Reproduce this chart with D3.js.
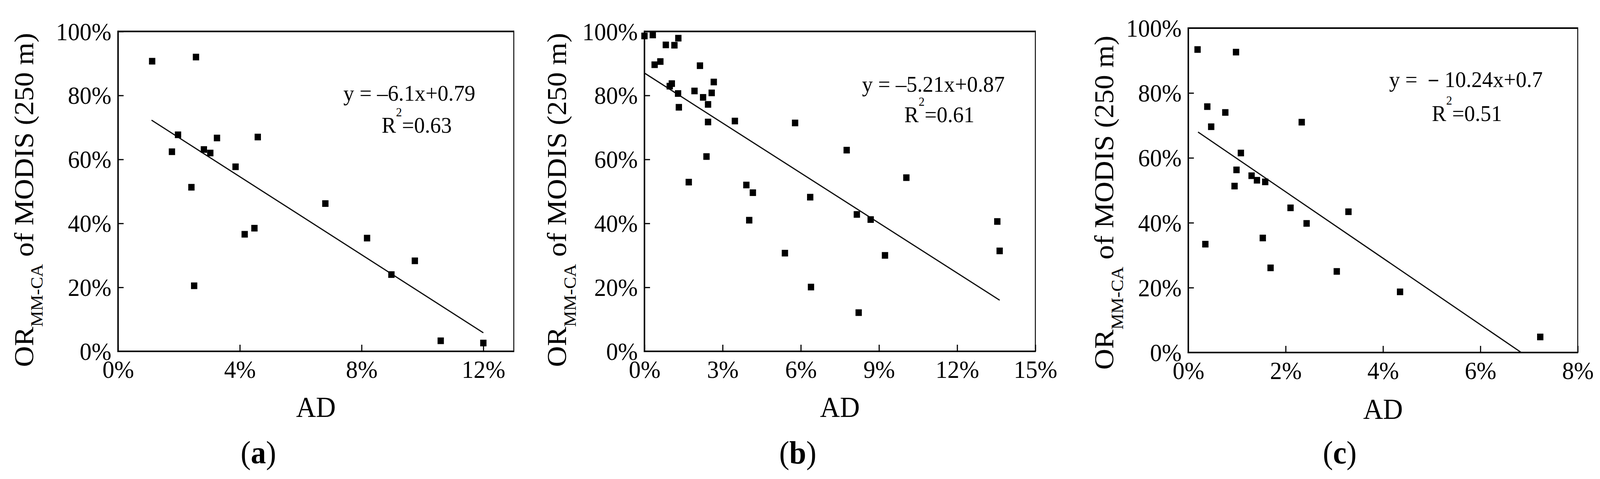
<!DOCTYPE html>
<html>
<head>
<meta charset="utf-8">
<script src="https://cdn.jsdelivr.net/npm/d3@7/dist/d3.min.js"></script>
<style>
  html, body { margin: 0; padding: 0; background: #fff; width: 100%; height: 100%; overflow: hidden; }
  svg { display: block; width: 100vw; height: 100vh; }
  text { font-family: "Liberation Serif", "Times New Roman", serif; fill: #000; }
</style>
</head>
<body>
<svg id="chart" viewBox="0 0 4310 1227" preserveAspectRatio="none"></svg>
<script>
// ---------------- DATA ----------------
const panelLabels = ["a", "b", "c"];
const xAxisTitle = "AD";
const yTitleMain = "OR";
const yTitleSub = "MM-CA";
const yTitleRest = " of MODIS (250 m)";

const yTickValues = [0, 0.2, 0.4, 0.6, 0.8, 1.0];
const xTicksA = [0, 0.04, 0.08, 0.12];
const xTicksB = [0, 0.03, 0.06, 0.09, 0.12, 0.15];
const xTicksC = [0, 0.02, 0.04, 0.06, 0.08];
const xMaxes = [0.13, 0.15, 0.08];

// panel (a)
const adA = [1.12, 2.56, 1.97, 1.77, 2.82, 3.03, 3.25, 4.59, 3.86, 2.41, 4.16, 4.48, 2.50, 6.81, 8.18, 8.98, 9.75, 10.60, 12.0];
const orA = [90.7, 92.0, 67.7, 62.4, 63.1, 62.0, 66.7, 67.0, 57.7, 51.3, 36.6, 38.5, 20.5, 46.2, 35.4, 24.0, 28.3, 3.3, 2.6];
// panel (b)
const adB = [0.0, 0.32, 0.39, 0.61, 0.82, 1.15, 1.30, 0.97, 1.05, 1.29, 1.32, 2.13, 1.92, 2.25, 2.44, 2.58, 2.66, 2.44, 3.47, 2.38, 1.70, 3.91, 4.16, 4.02, 5.78, 6.36, 5.39, 6.39, 7.76, 8.15, 8.68, 9.23, 8.22, 10.05, 13.54, 13.63];
const orB = [98.6, 98.9, 89.6, 90.6, 95.8, 95.7, 97.9, 82.9, 83.7, 80.6, 76.3, 89.3, 81.4, 79.4, 77.2, 80.8, 84.2, 71.7, 72.0, 60.9, 52.9, 52.0, 49.6, 41.0, 71.4, 48.2, 30.7, 20.1, 62.9, 42.8, 41.2, 30.0, 12.1, 54.3, 40.6, 31.4];
// panel (c)
const adC = [0.19, 0.98, 0.39, 0.76, 0.47, 2.33, 1.08, 0.99, 0.95, 1.30, 1.41, 1.58, 2.10, 2.43, 3.29, 0.35, 1.53, 1.69, 3.05, 4.35, 7.23];
const orC = [93.4, 92.6, 75.8, 74.0, 69.6, 71.0, 61.5, 56.3, 51.3, 54.5, 53.1, 52.6, 44.6, 39.8, 43.4, 33.4, 35.3, 26.1, 25.0, 18.7, 4.8];

// regression fits
const fitSlopes = [-6.1, -5.21, -10.24];
const fitIntercepts = [0.79, 0.87, 0.70];
const fitStartX = [0.011, 0.0, 0.002];
const fitEndX = [0.12, 0.1363, 0.0684];
const eqTexts = ["y = \u20136.1x+0.79", "y = \u20135.21x+0.87", "y = \uFF0D10.24x+0.7"];
const r2Values = ["0.63", "0.61", "0.51"];

// ---------------- LAYOUT (positions/styles) ----------------
const layout = [
  { left: 318, right: 1384, top: 80.6, bottom: 900, ytX: 89, ytY: 940, eqX: 925, eqY: 258, r2X: 1028, r2Y: 340, lblX: 696, adY: 1068 },
  { left: 1736, right: 2789, top: 80.6, bottom: 900, ytX: 1525, ytY: 940, eqX: 2322, eqY: 235, r2X: 2436, r2Y: 313, lblX: 2149, adY: 1068 },
  { left: 3201, right: 4250, top: 72, bottom: 903, ytX: 2999, ytY: 947, eqX: 3742, eqY: 223, r2X: 3857, r2Y: 310, lblX: 3609, adY: 1073 }
];
const xTickSets = [xTicksA, xTicksB, xTicksC];
const adSets = [adA, adB, adC];
const orSets = [orA, orB, orC];

const svg = d3.select("#chart");
svg.append("rect").attr("width", 4310).attr("height", 1227).attr("fill", "#fff");

const pct = d3.format(".0%");

layout.forEach((L, i) => {
  const g = svg.append("g");
  const x = d3.scaleLinear().domain([0, xMaxes[i]]).range([L.left, L.right]);
  const y = d3.scaleLinear().domain([0, 1]).range([L.bottom, L.top]);

  // x axis ticks (inward)
  const xa = g.append("g").attr("transform", `translate(0,${L.bottom})`)
    .call(d3.axisBottom(x).tickValues(xTickSets[i]).tickSize(-17).tickSizeOuter(0).tickFormat(pct));
  xa.select(".domain").remove();
  xa.selectAll(".tick line").attr("stroke", "#000").attr("stroke-width", 3);
  xa.selectAll(".tick text").attr("y", 68).attr("dy", 0)
    .style("font-size", "64px").style("font-family", '"Liberation Serif", serif').attr("fill", "#000");

  // y axis ticks (inward)
  const ya = g.append("g").attr("transform", `translate(${L.left},0)`)
    .call(d3.axisLeft(y).tickValues(yTickValues).tickSize(-15).tickSizeOuter(0).tickFormat(pct));
  ya.select(".domain").remove();
  ya.selectAll(".tick line").attr("stroke", "#000").attr("stroke-width", 3);
  ya.selectAll(".tick text").attr("x", -18).attr("dy", 0).attr("y", 21.5)
    .style("font-size", "64px").style("font-family", '"Liberation Serif", serif').attr("fill", "#000");

  // frame
  g.append("line").attr("x1", L.left).attr("x2", L.right).attr("y1", L.top).attr("y2", L.top)
    .attr("stroke", "#000").attr("stroke-width", 4);
  g.append("line").attr("x1", L.left).attr("x2", L.right).attr("y1", L.bottom).attr("y2", L.bottom)
    .attr("stroke", "#000").attr("stroke-width", 4);
  g.append("line").attr("x1", L.left).attr("x2", L.left).attr("y1", L.top - 2).attr("y2", L.bottom + 2)
    .attr("stroke", "#000").attr("stroke-width", 4);
  g.append("line").attr("x1", L.right).attr("x2", L.right).attr("y1", L.top - 2).attr("y2", L.bottom + 2)
    .attr("stroke", "#000").attr("stroke-width", 2.5);

  // regression line
  const fit = [fitStartX[i], fitEndX[i]].map(v => [v, Math.max(0, fitSlopes[i] * v + fitIntercepts[i])]);
  g.append("path").datum(fit)
    .attr("d", d3.line().x(d => x(d[0])).y(d => y(d[1])))
    .attr("fill", "none").attr("stroke", "#000").attr("stroke-width", 3);

  // points
  const pts = adSets[i].map((v, k) => ({ ad: v / 100, or: orSets[i][k] / 100 }));
  const s = 17;
  g.selectAll("rect.pt").data(pts).enter().append("rect").attr("class", "pt")
    .attr("x", d => x(d.ad) - s / 2).attr("y", d => y(d.or) - s / 2)
    .attr("width", s).attr("height", s).attr("fill", "#000");

  // equation
  g.append("text").attr("x", L.eqX).attr("y", L.eqY).style("font-size", "58px")
    .text(eqTexts[i]);
  const r2 = g.append("text").attr("x", L.r2X).attr("y", L.r2Y).style("font-size", "58px");
  r2.append("tspan").text("R");
  r2.append("tspan").attr("dy", -42).style("font-size", "32px").text("2");
  r2.append("tspan").attr("dy", 42).text("=" + r2Values[i]);

  // x title
  g.append("text").attr("x", (L.left + L.right) / 2).attr("y", L.adY)
    .attr("text-anchor", "middle").style("font-size", "74px").text(xAxisTitle);

  // y title
  const yt = g.append("text")
    .attr("transform", `translate(${L.ytX},${L.ytY}) rotate(-90)`)
    .style("font-size", "74px");
  yt.append("tspan").text(yTitleMain);
  yt.append("tspan").attr("dy", 26).style("font-size", "46px").text(yTitleSub);
  yt.append("tspan").attr("dy", -26).text(yTitleRest);

  // panel label
  const pl = g.append("text").attr("x", L.lblX).attr("y", 1187)
    .attr("text-anchor", "middle").style("font-size", "82px");
  pl.append("tspan").text("(");
  pl.append("tspan").style("font-weight", "bold").text(panelLabels[i]);
  pl.append("tspan").text(")");
});
</script>
</body>
</html>
